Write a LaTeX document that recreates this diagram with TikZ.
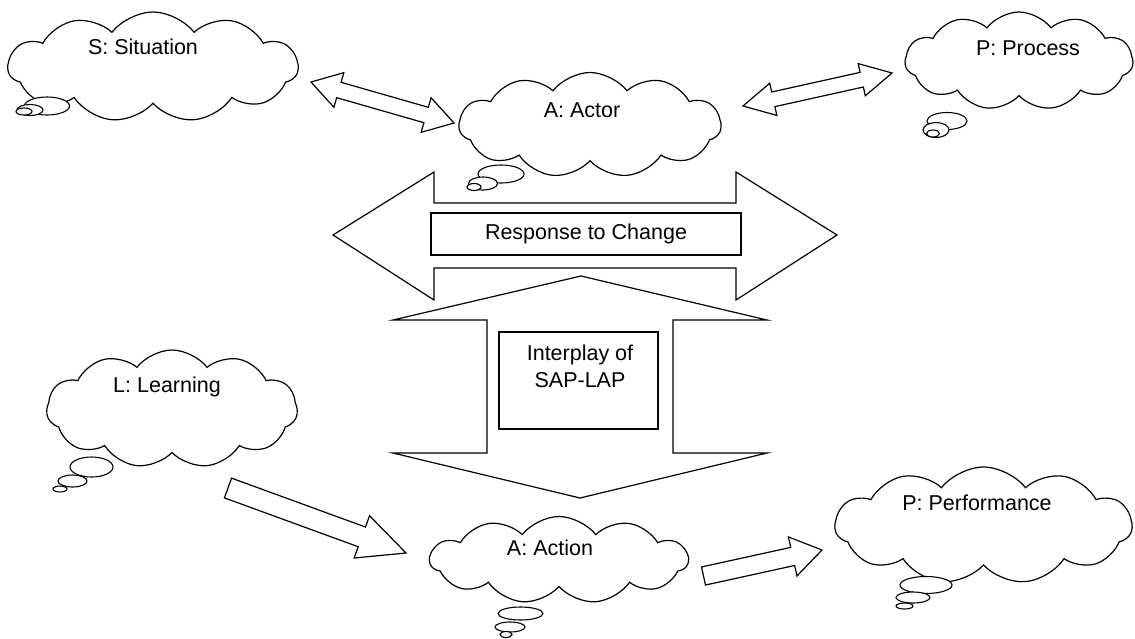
\documentclass[tikz,border=0pt]{standalone}
\usepackage{fontspec}
\setmainfont{Liberation Sans}
\usetikzlibrary{shapes.symbols,calc}
\tikzset{
  outl/.style={draw=black, line width=1.2pt, fill=white, line join=miter},
  cloudsty/.style={cloud, outl, cloud puffs=11, cloud puff arc=105, cloud ignores aspect, inner sep=0pt},
  bubble/.style={outl, line width=1.1pt},
  lbl/.style={font=\fontsize{21.5}{27}\selectfont, inner sep=0pt, align=center},
  boxsty/.style={draw=black, line width=1.2pt, fill=white, inner sep=0pt},
}
\newcommand\dblblock[5]{%
  \draw[outl] (#1)
   -- ($(#1)!#5!(#2)!#4!90:(#2)$)
   -- ($(#1)!#5!(#2)!#3!90:(#2)$)
   -- ($(#2)!#5!(#1)!#3!-90:(#1)$)
   -- ($(#2)!#5!(#1)!#4!-90:(#1)$)
   -- (#2)
   -- ($(#2)!#5!(#1)!#4!90:(#1)$)
   -- ($(#2)!#5!(#1)!#3!90:(#1)$)
   -- ($(#1)!#5!(#2)!#3!-90:(#2)$)
   -- ($(#1)!#5!(#2)!#4!-90:(#2)$)
   -- cycle;}
\newcommand\oneblock[5]{%
  \draw[outl] ($(#1)!#3!90:(#2)$)
   -- ($(#2)!#5!(#1)!#3!-90:(#1)$)
   -- ($(#2)!#5!(#1)!#4!-90:(#1)$)
   -- (#2)
   -- ($(#2)!#5!(#1)!#4!90:(#1)$)
   -- ($(#2)!#5!(#1)!#3!90:(#1)$)
   -- ($(#1)!#3!-90:(#2)$)
   -- cycle;}
\begin{document}
\begin{tikzpicture}[x=1pt,y=-1pt]
\useasboundingbox[fill=white] (0,0) rectangle (1135,638);

% clouds
\node[cloudsty, minimum width=290pt, minimum height=110pt] (S) at (153,67) {};
\node[cloudsty, minimum width=262pt, minimum height=105pt] (A1) at (590,125) {};
\node[cloudsty, minimum width=228pt, minimum height=98pt] (P1) at (1019,61) {};
\node[cloudsty, minimum width=251pt, minimum height=118pt] (L) at (172,409) {};
\node[cloudsty, minimum width=258pt, minimum height=87pt] (A2) at (559,560) {};
\node[cloudsty, minimum width=297pt, minimum height=117pt] (P2) at (983.5,525.5) {};

% thought bubbles
\draw[bubble] (47,106) ellipse [x radius=22.5pt, y radius=9pt];
\draw[bubble] (30,110) ellipse [x radius=13pt, y radius=5.5pt];
\draw[bubble] (24,111.5) ellipse [x radius=8pt, y radius=3.5pt];

\draw[bubble] (501,174) ellipse [x radius=23pt, y radius=9pt];
\draw[bubble] (483,183.5) ellipse [x radius=14.5pt, y radius=6.5pt];
\draw[bubble] (474,187) ellipse [x radius=7pt, y radius=3.5pt];

\draw[bubble] (947,121) ellipse [x radius=20pt, y radius=8.5pt];
\draw[bubble] (936,130) ellipse [x radius=13pt, y radius=7.5pt];
\draw[bubble] (933,133.5) ellipse [x radius=6.5pt, y radius=3.5pt];

\draw[bubble] (91.5,467) ellipse [x radius=21.5pt, y radius=10pt];
\draw[bubble] (72.5,481) ellipse [x radius=14.5pt, y radius=6pt];
\draw[bubble] (60,489) ellipse [x radius=7pt, y radius=3pt];

\draw[bubble] (520.5,613.5) ellipse [x radius=22.5pt, y radius=6.5pt];
\draw[bubble] (510,627) ellipse [x radius=15pt, y radius=5pt];
\draw[bubble] (506,634.5) ellipse [x radius=6pt, y radius=3pt];

\draw[bubble] (926,585) ellipse [x radius=26pt, y radius=8.5pt];
\draw[bubble] (913,597.5) ellipse [x radius=17pt, y radius=5.5pt];
\draw[bubble] (904.5,606) ellipse [x radius=8.5pt, y radius=3pt];

% cloud texts
\node[lbl] (St) at (143,47) {S: Situation};
\node[lbl] (A1t) at (582,110) {A: Actor};
\node[lbl] (P1t) at (1028,48) {P: Process};
\node[lbl] (Lt) at (167,387) {L: Learning};
\node[lbl] (A2t) at (550,548) {A: Action};
\node[lbl] (P2t) at (977,503) {P: Performance};

% arrow end points
\coordinate (sa1) at (311,82);
\coordinate (sa2) at (454,123);
\coordinate (ap1) at (743,106);
\coordinate (ap2) at (892,73);
\coordinate (la1) at (228,488);
\coordinate (la2) at (406,553);
\coordinate (ap3) at (703.5,576);
\coordinate (ap4) at (822,550);

\dblblock{sa1}{sa2}{8pt}{18pt}{29pt}
\dblblock{ap1}{ap2}{7.5pt}{16.5pt}{31pt}
\oneblock{la1}{la2}{10.5pt}{22.5pt}{47pt}
\oneblock{ap3}{ap4}{9.25pt}{20pt}{30pt}

% big horizontal double arrow
\draw[outl] (333,235) -- (434,172) -- (434,203) -- (736,203) -- (736,172)
  -- (837,235) -- (736,300) -- (736,268) -- (434,268) -- (434,300) -- cycle;
\node[boxsty, minimum width=310pt, minimum height=42pt] (R) at (586,234) {};
\node[lbl] (Rt) at (586,234) {Response to Change};

% big vertical double arrow
\draw[outl] (581,276) -- (767,320) -- (673,320) -- (673,453) -- (767,453)
  -- (580,498) -- (393,453) -- (487,453) -- (487,320) -- (393,320) -- cycle;
\node[boxsty, minimum width=159pt, minimum height=97pt] (I) at (578.5,380.5) {};
\node[lbl] (It) at (580,366) {Interplay of\\SAP-LAP};
\end{tikzpicture}
\end{document}
